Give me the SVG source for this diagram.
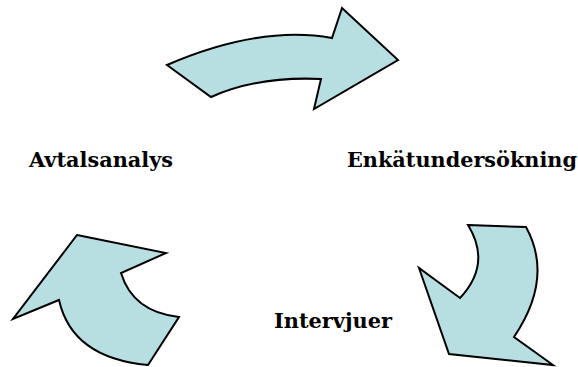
<svg xmlns="http://www.w3.org/2000/svg" width="578" height="367" viewBox="0 0 578 367">
<style>
.arrow{fill:#B7DFE2;stroke:#000;stroke-width:2;stroke-linejoin:miter}
.lbl{font-family:"DejaVu Serif","Liberation Serif",serif;font-weight:bold;font-size:20px;fill:#000}
</style>
<rect width="578" height="367" fill="#fff"/>
<g id="connectors">
<path id="arrow-top" class="arrow" d="M167,65 Q260,25 332,38 L342,8 L398,60 L314,109 L321,79 Q258,76 211,97 Z"/>
<path id="arrow-right" class="arrow" d="M468,225 L526,227 Q554,278 514,337 L553,365 L449,354 L419,268 L460,298 Q492,264 468,225 Z"/>
<path id="arrow-left" class="arrow" d="M77,235 L166,253 L121,273 Q133,312 179,317 L148,365 Q72,358 59,300 L13,319 Z"/>
</g>
<g id="node-avtalsanalys"><text class="lbl" x="29" y="167" textLength="144" lengthAdjust="spacingAndGlyphs">Avtalsanalys</text></g>
<g id="node-enkatundersokning"><text class="lbl" x="347" y="167" textLength="230" lengthAdjust="spacingAndGlyphs">Enkätundersökning</text></g>
<g id="node-intervjuer"><text class="lbl" x="274" y="328" textLength="118" lengthAdjust="spacingAndGlyphs">Intervjuer</text></g>
</svg>
